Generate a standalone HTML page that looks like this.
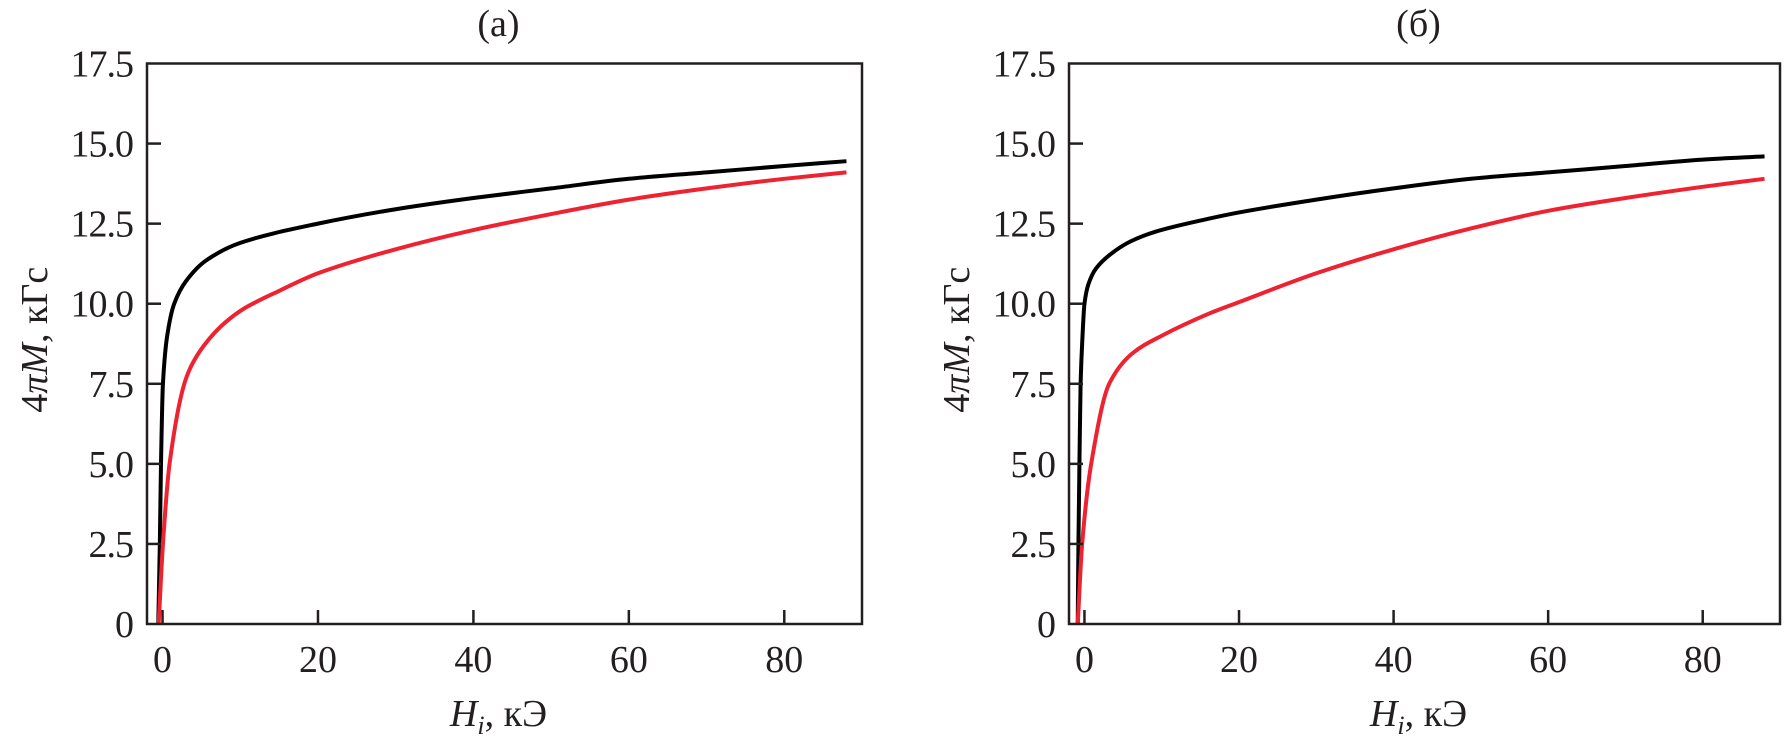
<!DOCTYPE html>
<html><head><meta charset="utf-8"><style>
html,body{margin:0;padding:0;background:#fff;}
svg{display:block;font-family:"Liberation Serif","DejaVu Serif",serif;}
</style></head><body>
<svg id="chart" width="1785" height="743" viewBox="0 0 1785 743"></svg>
<script>
const ticksY = [0, 2.5, 5, 7.5, 10, 12.5, 15, 17.5];
const tickLabelsY = ["0", "2.5", "5.0", "7.5", "10.0", "12.5", "15.0", "17.5"];
const ticksX = [0, 20, 40, 60, 80];
const tickLabelsX = ["0", "20", "40", "60", "80"];
const panelTitles = ["(a)", "(б)"];
const aBlackH = [-0.55,-0.35,-0.2,0.05,0.6,1.5,3,5.6,10,20,30,40,50,60,70,80,88];
const aBlackM = [0,2.5,5,7.5,9,10,10.7,11.35,11.9,12.5,12.95,13.3,13.6,13.9,14.1,14.3,14.45];
const aRedH = [-0.5,0.05,0.9,2.8,4,6,8,10.5,15,20,30,40,50,60,70,80,88];
const aRedM = [0,2.5,5,7.5,8.2,8.9,9.4,9.85,10.4,10.95,11.7,12.3,12.8,13.25,13.6,13.9,14.1];
const bBlackH = [-0.87,-0.78,-0.65,-0.5,-0.25,0,0.5,1.5,3.4,6,9.2,16,20,30,40,50,60,70,80,88];
const bBlackM = [0,2.5,5,7.5,9,10,10.6,11.1,11.55,11.95,12.25,12.65,12.85,13.25,13.6,13.9,14.1,14.3,14.5,14.6];
const bRedH = [-0.87,-0.3,0.87,3.2,6.2,10,16.2,20,30,40,50,60,70,80,88];
const bRedM = [0,2.5,5,7.5,8.45,9.0,9.7,10.05,10.95,11.7,12.35,12.9,13.3,13.65,13.9];

const NS = "http://www.w3.org/2000/svg";
const svg = document.getElementById('chart');
function mk(tag, attrs, parent){const e=document.createElementNS(NS,tag);for(const k in attrs)e.setAttribute(k,attrs[k]);(parent||svg).appendChild(e);return e;}

function monoPath(xs, ys){
  const n=xs.length, d=[], m=[];
  for(let i=0;i<n-1;i++) d.push((ys[i+1]-ys[i])/(xs[i+1]-xs[i]));
  m[0]=d[0]; m[n-1]=d[n-2];
  for(let i=1;i<n-1;i++){ m[i]=(d[i-1]*d[i]<=0)?0:2/(1/d[i-1]+1/d[i]); }
  let p="M"+xs[0].toFixed(2)+","+ys[0].toFixed(2);
  for(let i=0;i<n-1;i++){const h=(xs[i+1]-xs[i])/3;
    p+=" C"+(xs[i]+h).toFixed(2)+","+(ys[i]+m[i]*h).toFixed(2)+" "+(xs[i+1]-h).toFixed(2)+","+(ys[i+1]-m[i+1]*h).toFixed(2)+" "+xs[i+1].toFixed(2)+","+ys[i+1].toFixed(2);}
  return p;
}

function panel(cfg, idx){
  const {left,right,top,bottom,series}=cfg;
  const xMin=-2,xMax=90,yMin=0,yMax=17.5;
  const sx=v=>left+(v-xMin)/(xMax-xMin)*(right-left);
  const sy=v=>bottom-(v-yMin)/(yMax-yMin)*(bottom-top);
  const g=mk('g',{});
  
  
  const cid='clip'+idx;
  const cp=mk('clipPath',{id:cid},g); mk('rect',{x:left,y:top,width:right-left,height:bottom-top+3},cp);
  series.forEach(s=>{
    const path=mk('path',{d:monoPath(s.h.map(sx),s.m.map(sy)),fill:'none',stroke:s.color,'stroke-width':4,'stroke-linejoin':'round','clip-path':'url(#'+cid+')'},g);
    
    
  });
  const fr=mk('rect',{x:left,y:top,width:right-left,height:bottom-top,fill:'none',stroke:'#231f20','stroke-width':2.5},g);
  
  
  ticksY.forEach((v,i)=>{
    const y=sy(v);
    if(i>0&&i<ticksY.length-1){const t=mk('line',{x1:left,x2:left+14,y1:y,y2:y,stroke:'#231f20','stroke-width':2.5},g);
      
      }
    const tx=mk('text',{x:left-14,y:y+13,'text-anchor':'end','font-size':38,fill:'#231f20','letter-spacing':-1},g);
    tx.textContent=tickLabelsY[i];
    
    
  });
  ticksX.forEach((v,i)=>{
    const x=sx(v);
    const t=mk('line',{x1:x,x2:x,y1:bottom,y2:bottom-14,stroke:'#231f20','stroke-width':2.5},g);
    
    
    const tx=mk('text',{x:x,y:bottom+48,'text-anchor':'middle','font-size':38,fill:'#231f20'},g);
    tx.textContent=tickLabelsX[i];
    
    
  });
  const ti=mk('text',{x:(left+right)/2-6,y:36,'text-anchor':'middle','font-size':38,fill:'#231f20'},g);
  ti.textContent=panelTitles[idx];
  
  
  const xt=mk('text',{x:(left+right)/2-6,y:726,'text-anchor':'middle','font-size':38,fill:'#231f20'},g);
  xt.innerHTML='<tspan font-style="italic">H</tspan><tspan font-style="italic" font-size="26" dy="8">i</tspan><tspan dy="-8">, кЭ</tspan>';
  
  
  const yx=left-100, yy=(top+bottom)/2-4;
  const yt=mk('text',{x:yx,y:yy,'text-anchor':'middle','font-size':38,fill:'#231f20',transform:'rotate(-90 '+yx+' '+yy+')'},g);
  yt.innerHTML='4<tspan font-style="italic">πM</tspan>, кГс';
  
  
}

panel({left:147,right:862,top:63.5,bottom:624,series:[
  {h:aBlackH,m:aBlackM,color:'#000',name:'curve-black-a'},
  {h:aRedH,m:aRedM,color:'#ee2230',name:'curve-red-a'}]},0);
panel({left:1069,right:1780,top:63.5,bottom:624,series:[
  {h:bBlackH,m:bBlackM,color:'#000',name:'curve-black-b'},
  {h:bRedH,m:bRedM,color:'#ee2230',name:'curve-red-b'}]},1);
</script>
</body></html>
